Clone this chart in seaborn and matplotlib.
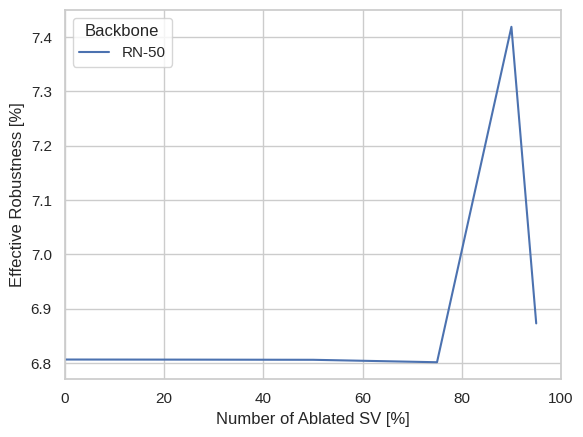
import matplotlib
matplotlib.use("Agg")
import matplotlib.pyplot as plt
import seaborn as sns
import pandas as pd

ablated_sv = [0, 25, 50, 75, 90, 95]
effective_robustness = [6.8065, 6.8063, 6.8060, 6.8015, 7.419, 6.873]
backbone = ["RN-50"] * len(ablated_sv)

df = pd.DataFrame({
    "Number of Ablated SV [%]": ablated_sv,
    "Effective Robustness [%]": effective_robustness,
    "Backbone": backbone,
})

sns.set_theme(style="whitegrid")
plt.rcParams['font.family'] = ['Liberation Sans', 'DejaVu Sans']
fig, ax = plt.subplots(figsize=(5.83, 4.37), dpi=100)
fig.subplots_adjust(left=0.1115, right=0.9623, top=0.977, bottom=0.1327)
sns.lineplot(data=df, x="Number of Ablated SV [%]", y="Effective Robustness [%]",
             hue="Backbone", ax=ax)
ax.set_xlim(0, 100)
fig.savefig("out.png", dpi=100)
